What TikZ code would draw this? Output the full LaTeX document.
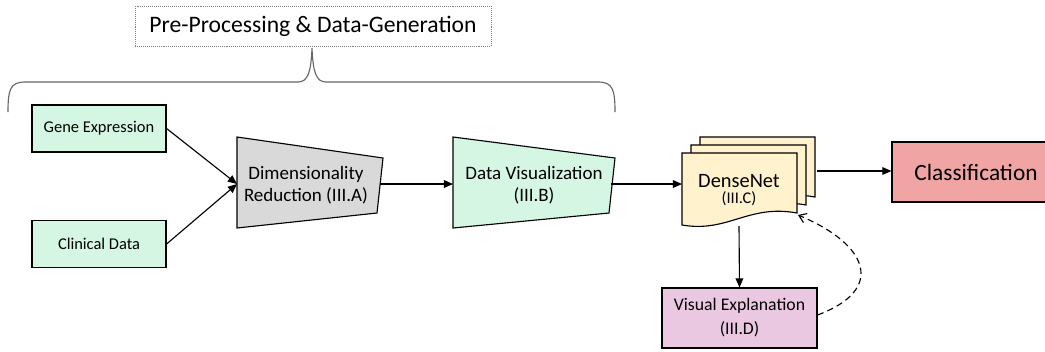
\documentclass[tikz,border=0pt]{standalone}
\usepackage{fontspec}
\setmainfont{Carlito}
\usetikzlibrary{arrows.meta}

\definecolor{datagreen}{RGB}{214,246,228}
\definecolor{redgray}{RGB}{217,217,217}
\definecolor{netyellow}{RGB}{255,242,204}
\definecolor{classred}{RGB}{240,164,164}
\definecolor{explpink}{RGB}{234,200,226}

\begin{document}
\begin{tikzpicture}[x=0.025cm, y=-0.025cm,
		inbox/.style={draw=black, line width=0.8pt, fill=datagreen, minimum width=3.35cm, minimum height=1.175cm, font=\fontsize{11.7}{14}\selectfont},
		shapebox/.style={draw=black, line width=0.8pt},
		arr/.style={-{Triangle[length=6.5pt,width=5.5pt]}, line width=0.8pt}]

		\useasboundingbox (0,0) rectangle (1045,351);
		\clip (0,0) rectangle (1045,351);

		%Titel
		\node [draw=gray, densely dotted, minimum width=8.9cm, minimum height=1cm, font=\fontsize{16.8}{20}\selectfont] (title) at (313,26) {Pre-Processing \& Data-Generation};

		%Klammer
		\draw [gray!80!black, line width=0.8pt] (8,112) .. controls (8,90) and (10,82) .. (25,82) -- (298,82)
			.. controls (308,82) and (311,72) .. (312,48) .. controls (313,72) and (316,82) .. (326,82)
			-- (598,82) .. controls (613,82) and (615,90) .. (615,112);

		%Eingangsdaten
		\node [inbox] (gene) at (99,128.5) {Gene Expression};
		\node [inbox] (clinical) at (99,244) {Clinical Data};

		%Dimensionality Reduction
		\draw [shapebox, fill=redgray] (237,137) -- (383,158) -- (377,213) -- (237,228) -- cycle;
		\node [align=center, font=\fontsize{13.5}{15.6}\selectfont] (dimred) at (306,185) {Dimensionality\\Reduction (III.A)};
		\coordinate (dimin) at (237,184);
		\coordinate (dimout) at (380,184);

		%Data Visualization
		\draw [shapebox, fill=datagreen] (453,137) -- (615,158) -- (609,213) -- (453,228) -- cycle;
		\node [align=center, font=\fontsize{13.5}{15.6}\selectfont] (datavis) at (534,185) {Data Visualization\\(III.B)};
		\coordinate (dvin) at (453,184);
		\coordinate (dvout) at (611,184);

		%DenseNet (Stapel)
		\foreach \s in {2,1,0}{
			\begin{scope}[shift={(9*\s,-8*\s)}]
				\draw [shapebox, fill=netyellow] (682,153) -- (797,153) -- (797,213)
					.. controls (748,204) and (728,233) .. (682,225) -- cycle;
			\end{scope}
		}
		\node [align=center] (densenet) at (739,190) {{\fontsize{14.5}{17}\selectfont DenseNet}\\[-1pt]{\fontsize{11.6}{14}\selectfont (III.C)}};
		\coordinate (dnin) at (682,184);
		\coordinate (dnout) at (817,171);
		\coordinate (dnbot) at (739,226);
		\coordinate (dnback) at (798,215);

		%Classification
		\node [draw=black, line width=0.8pt, fill=classred, minimum width=4.2cm, minimum height=1.5cm, font=\fontsize{16.6}{20}\selectfont] (class) at (976,172) {Classification};

		%Visual Explanation
		\node [draw=black, line width=0.8pt, fill=explpink, minimum width=3.875cm, minimum height=1.5cm, align=center, font=\fontsize{12.6}{17}\selectfont] (visual) at (739.5,318) {Visual Explanation\\(III.D)};

		%Pfeile
		\draw [arr] (gene.east) -- (dimin);
		\draw [arr] (clinical.east) -- (dimin);
		\draw [arr] (dimout) -- (dvin);
		\draw [arr] (dvout) -- (dnin);
		\draw [arr] (dnout) -- (class.west |- dnout);
		\draw [arr] (dnbot) -- (visual.north);
		\draw [-{Straight Barb[length=5pt,width=7pt]}, line width=0.8pt, dash pattern=on 4.5pt off 3pt] (visual.east |- 0,315)
			.. controls (885,290) and (870,245) .. (dnback);

\end{tikzpicture}
\end{document}
